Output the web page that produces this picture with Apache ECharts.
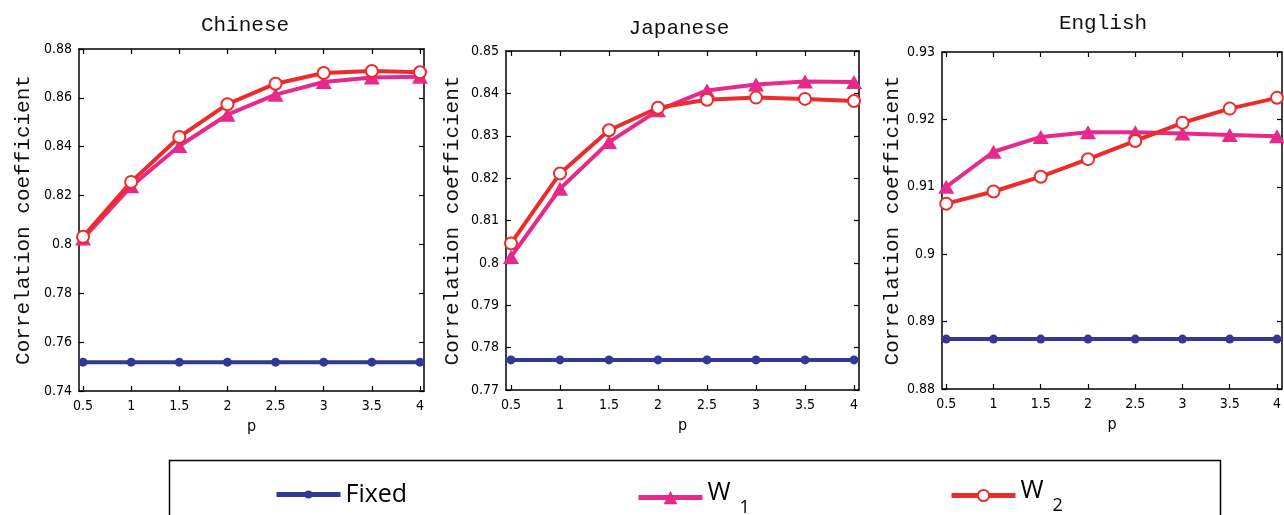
<!DOCTYPE html>
<html><head><meta charset="utf-8">
<script src="https://cdn.jsdelivr.net/npm/echarts@6/dist/echarts.min.js"></script>
<style>html,body{margin:0;padding:0;background:#fff}#c{width:1284px;height:515px}</style>
</head><body><div id="c"></div>
<script>
// ---------- data ----------
const pValues = [0.5, 1, 1.5, 2, 2.5, 3, 3.5, 4];
const panelTitles = ['Chinese', 'Japanese', 'English'];
const seriesNames = ['Fixed', 'W1', 'W2'];

const chineseFixed = [0.7518, 0.7518, 0.7518, 0.7518, 0.7518, 0.7518, 0.7518, 0.7518];
const chineseW1    = [0.8024, 0.8238, 0.8403, 0.8531, 0.8613, 0.8665, 0.8683, 0.8686];
const chineseW2    = [0.8031, 0.8256, 0.8440, 0.8574, 0.8658, 0.8702, 0.8710, 0.8705];

const japaneseFixed = [0.7771, 0.7771, 0.7771, 0.7771, 0.7771, 0.7771, 0.7771, 0.7771];
const japaneseW1    = [0.8014, 0.8175, 0.8285, 0.8360, 0.8407, 0.8421, 0.8428, 0.8427];
const japaneseW2    = [0.8046, 0.8211, 0.8313, 0.8366, 0.8385, 0.8390, 0.8387, 0.8382];

const englishFixed = [0.8874, 0.8874, 0.8874, 0.8874, 0.8874, 0.8874, 0.8874, 0.8874];
const englishW1    = [0.9100, 0.9152, 0.9174, 0.9181, 0.9181, 0.9179, 0.9177, 0.9175];
const englishW2    = [0.9075, 0.9093, 0.9115, 0.9141, 0.9168, 0.9195, 0.9216, 0.9232];

const chineseYTicks  = [0.74, 0.76, 0.78, 0.80, 0.82, 0.84, 0.86, 0.88];
const japaneseYTicks = [0.77, 0.78, 0.79, 0.80, 0.81, 0.82, 0.83, 0.84, 0.85];
const englishYTicks  = [0.88, 0.89, 0.90, 0.91, 0.92, 0.93];

const yAxisName = 'Correlation coefficient';
const xAxisName = 'p';

// ---------- layout / style ----------
const panelValues = [
  [chineseFixed, chineseW1, chineseW2],
  [japaneseFixed, japaneseW1, japaneseW2],
  [englishFixed, englishW1, englishW2]
];
const panelYTicks = [chineseYTicks, japaneseYTicks, englishYTicks];
const layout = [
  {left: 79,  width: 345, top: 49, height: 342, xMin: 0.458, xMax: 4.042, nameGap: 45, titleX: 240,  titleTop: 10},
  {left: 506, width: 353, top: 51, height: 339, xMin: 0.449, xMax: 4.051, nameGap: 43, titleX: 674,  titleTop: 13},
  {left: 942, width: 340, top: 52, height: 337, xMin: 0.455, xMax: 4.053, nameGap: 32, titleX: 1098, titleTop: 8}
];
const TICK_FONT = '"DejaVu Sans Condensed", "Liberation Sans", sans-serif';
const MONO_FONT = '"Liberation Mono", "Courier New", Courier, monospace';
const LEG_FONT = '"Open Sans", "Noto Sans", sans-serif';
const styles = [
  {color: '#323894', symbol: 'circle', symbolSize: 9},
  {color: '#E8298C', symbol: 'triangle', symbolSize: [16, 14]},
  {color: '#EC2C2C', symbol: 'emptyCircle', symbolSize: 12}
];

const grid = [], xAxis = [], yAxis = [], series = [], title = [];
layout.forEach((L, g) => {
  grid.push({left: L.left, top: L.top, width: L.width, height: L.height, containLabel: false});
  const yt = panelYTicks[g];
  const axLine = {show: true, lineStyle: {color: '#000', width: 1.5}};
  xAxis.push({
    type: 'value', gridIndex: g, position: 'bottom', min: L.xMin, max: L.xMax,
    axisLine: axLine, splitLine: {show: false},
    axisTick: {show: true, inside: true, length: 5, customValues: pValues, lineStyle: {color: '#000', width: 1.2}},
    axisLabel: {show: true, customValues: pValues, margin: 8, fontFamily: TICK_FONT, fontSize: 14, color: '#000'},
    name: xAxisName, nameLocation: 'middle', nameGap: 28,
    nameTextStyle: {fontFamily: TICK_FONT, fontSize: 16, color: '#000'}
  });
  xAxis.push({
    type: 'value', gridIndex: g, position: 'top', min: L.xMin, max: L.xMax,
    axisLine: axLine, splitLine: {show: false},
    axisTick: {show: true, inside: true, length: 5, customValues: pValues, lineStyle: {color: '#000', width: 1.2}},
    axisLabel: {show: false}
  });
  yAxis.push({
    type: 'value', gridIndex: g, position: 'left', min: yt[0], max: yt[yt.length - 1],
    axisLine: axLine, splitLine: {show: false},
    axisTick: {show: true, inside: true, length: 5, customValues: yt, lineStyle: {color: '#000', width: 1.2}},
    axisLabel: {show: true, customValues: yt, margin: 7, fontFamily: TICK_FONT, fontSize: 14, color: '#000'},
    name: yAxisName, nameLocation: 'middle', nameGap: L.nameGap, nameRotate: 90,
    nameTextStyle: {fontFamily: MONO_FONT, fontSize: 21, color: '#111'}
  });
  yAxis.push({
    type: 'value', gridIndex: g, position: 'right', min: yt[0], max: yt[yt.length - 1],
    axisLine: axLine, splitLine: {show: false},
    axisTick: {show: true, inside: true, length: 5, customValues: yt, lineStyle: {color: '#000', width: 1.2}},
    axisLabel: {show: false}
  });
  title.push({
    text: panelTitles[g], left: L.titleX, top: L.titleTop, textAlign: 'center',
    textStyle: {fontFamily: MONO_FONT, fontSize: 21, fontWeight: 'normal', color: '#111'}
  });
  panelValues[g].forEach((vals, s) => {
    const st = styles[s];
    series.push({
      type: 'line', name: seriesNames[s], xAxisIndex: 2 * g, yAxisIndex: 2 * g,
      data: pValues.map((p, i) => [p, vals[i]]),
      symbol: st.symbol, symbolSize: st.symbolSize, showSymbol: true, clip: false,
      lineStyle: {color: st.color, width: 4},
      itemStyle: {color: st.color, borderColor: st.color, borderWidth: st.symbol === 'emptyCircle' ? 3 : 0},
      emphasis: {disabled: true}, animation: false, z: 2 + s
    });
  });
});

const legendRich = {
  w: {fontSize: 25, fontFamily: LEG_FONT, color: '#000', padding: [0, 0, 10, 0]},
  f: {fontSize: 25, fontFamily: LEG_FONT, color: '#000'},
  s: {fontSize: 18, fontFamily: LEG_FONT, color: '#000', padding: [20, 0, 0, 9]}
};
const legFmt = n => n === 'Fixed' ? '{f|Fixed}' : '{w|W}{s|' + n.slice(1) + '}';
const legend = [
  {data: ['Fixed'], left: 274, top: 482, itemWidth: 64, itemHeight: 10},
  {data: ['W1'], left: 636, top: 480, itemWidth: 64, itemHeight: 17},
  {data: ['W2'], left: 949, top: 478, itemWidth: 64, itemHeight: 14}
].map(l => Object.assign(l, {
  padding: 0, itemGap: 0, selectedMode: false, formatter: legFmt,
  lineStyle: {width: 5},
  textStyle: {rich: legendRich, fontFamily: LEG_FONT, fontSize: 25, color: '#000'}
}));

const chart = echarts.init(document.getElementById('c'), null, {renderer: 'canvas'});
chart.setOption({
  backgroundColor: '#fff',
  animation: false,
  title, grid, xAxis, yAxis, series, legend,
  graphic: [{
    type: 'rect', left: 167, top: 458, z: -1, silent: true,
    shape: {width: 1051, height: 80},
    style: {fill: 'none', stroke: '#000', lineWidth: 1.5}
  }]
});
</script></body></html>
